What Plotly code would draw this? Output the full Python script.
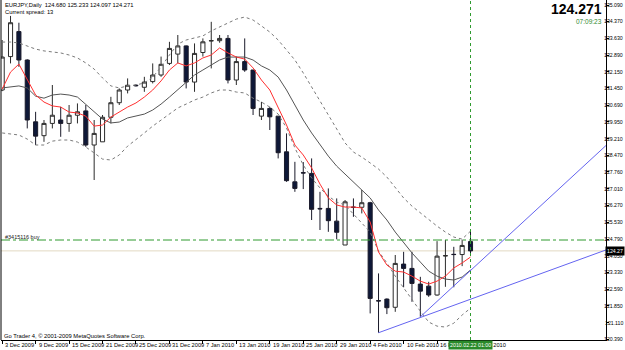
import plotly.graph_objects as go

# ---------------- data ----------------
symbol = "EURJPY,Daily"
last_ohlc = "124.680 125.233 124.097 124.271"
spread = 13
bid = 124.271
buy_price = 124.75
buy_label = "#3415116 buy"
server_time = "07:09:23"
cursor_label = "2010.02.22 01:00"
copyright_txt = "Go Trader 4, © 2001-2009 MetaQuotes Software Corp."

bars = list(range(57))  # 3 Dec 2009 ... 22 Feb 2010 (trading days)

opens = [131.35, 132.82, 133.92, 132.67, 129.95, 129.34, 129.88, 130.03, 129.88, 130.24,
         130.43, 128.93, 129.07, 130.15, 130.79, 131.35, 131.56, 131.47, 131.72, 132.01,
         132.52, 132.93, 133.29, 131.70, 133.00, 133.51, 133.52, 133.62, 131.79, 132.60,
         132.23, 130.20, 130.54, 130.20, 128.63, 127.31, 127.71, 127.68, 126.14, 126.14,
         125.58, 124.53, 126.19, 126.19, 126.39, 122.08, 122.15, 121.79, 123.69, 123.50,
         122.81, 122.72, 122.33, 124.05, 124.12, 124.11, 124.680]
highs = [133.55, 134.61, 134.31, 132.70, 130.39, 130.03, 131.57, 130.61, 130.69, 130.76,
         130.69, 130.03, 130.25, 131.05, 131.42, 131.86, 131.60, 131.93, 132.52, 132.82,
         133.47, 133.77, 133.31, 133.40, 133.62, 134.35, 133.77, 133.77, 132.82, 133.62,
         132.23, 130.83, 130.61, 130.20, 129.44, 128.19, 128.18, 128.34, 126.87, 127.02,
         126.58, 126.51, 126.58, 126.95, 126.43, 123.28, 122.18, 124.09, 124.23, 124.23,
         123.13, 122.91, 124.70, 124.75, 124.45, 124.77, 125.233]
lows = [131.30, 132.52, 132.37, 129.66, 128.93, 129.07, 129.66, 129.29, 129.51, 129.88,
        128.85, 127.39, 129.07, 129.88, 130.69, 131.20, 131.50, 131.27, 131.64, 131.93,
        132.45, 132.52, 131.42, 131.27, 132.82, 132.30, 133.43, 131.64, 131.57, 132.15,
        130.25, 130.03, 129.59, 128.34, 127.31, 126.87, 126.99, 125.63, 125.19, 125.11,
        124.78, 124.53, 125.77, 125.92, 121.52, 120.67, 121.49, 121.59, 122.67, 122.03,
        121.37, 122.25, 122.30, 122.69, 122.67, 123.60, 124.097]
closes = [132.80, 134.31, 132.67, 130.03, 129.32, 129.88, 130.24, 129.88, 130.24, 130.39,
          128.93, 129.44, 130.15, 130.79, 131.35, 131.56, 131.54, 131.70, 132.01, 132.48,
          133.18, 133.29, 131.70, 132.96, 133.47, 133.52, 133.62, 131.79, 132.60, 132.23,
          130.54, 130.54, 130.17, 128.59, 127.36, 127.02, 127.70, 126.10, 126.12, 125.60,
          125.09, 126.43, 126.19, 126.39, 122.18, 122.07, 121.77, 123.72, 123.50, 122.84,
          122.50, 122.33, 124.04, 124.06, 124.11, 124.51, 124.271]

ma_fast = [131.39, 132.14, 132.49, 131.79, 131.13, 130.82, 130.65, 130.60, 130.38, 130.34,
           130.20, 129.76, 129.81, 130.16, 130.38, 130.60, 130.78, 131.04, 131.35, 131.75,
           132.23, 132.54, 132.41, 132.54, 132.76, 132.89, 133.20, 132.98, 132.80, 132.71,
           132.32, 131.79, 131.35, 130.60, 129.81, 128.93, 128.49, 127.92, 127.21, 126.60,
           126.29, 126.20, 126.20, 126.16, 125.54, 124.22, 123.65, 123.38, 123.34, 123.16,
           122.94, 122.81, 122.94, 123.16, 123.52, 123.74, 124.00]
ma_mid = [131.44, 131.48, 131.53, 131.44, 131.08, 130.99, 131.13, 131.17, 131.13, 131.04,
          130.73, 130.38, 130.07, 129.90, 129.94, 130.12, 130.20, 130.29, 130.47, 130.73,
          131.04, 131.35, 131.70, 132.01, 132.23, 132.45, 132.67, 132.80, 132.80, 132.80,
          132.67, 132.41, 132.23, 131.92, 131.35, 130.69, 130.03, 129.46, 128.93, 128.44,
          128.00, 127.65, 127.26, 126.95, 126.60, 126.07, 125.63, 125.10, 124.62, 124.18,
          123.78, 123.38, 123.16, 123.03, 122.99, 123.12, 123.43]
band_up = [133.46, 133.46, 133.42, 133.29, 133.15, 133.07, 133.02, 132.98, 132.89, 132.76,
           132.54, 132.27, 131.88, 131.53, 131.44, 131.53, 131.57, 131.66, 131.92, 132.36,
           132.89, 133.37, 133.55, 133.64, 133.73, 133.95, 134.12, 134.30, 134.47, 134.56,
           134.43, 134.17, 133.90, 133.55, 133.11, 132.67, 132.10, 131.48, 130.82, 130.20,
           129.59, 129.02, 128.62, 128.40, 128.14, 127.87, 127.52, 127.04, 126.60, 126.24,
           125.94, 125.67, 125.36, 125.10, 124.88, 124.79, 125.14]
band_dn = [129.46, 129.41, 129.37, 129.19, 128.93, 128.93, 129.10, 129.15, 129.15, 129.06,
           128.84, 128.58, 128.31, 128.27, 128.49, 128.88, 129.15, 129.46, 129.76, 130.03,
           130.29, 130.56, 130.73, 130.91, 131.04, 131.22, 131.35, 131.35, 131.26, 131.22,
           130.99, 130.82, 130.60, 130.29, 129.68, 128.80, 128.05, 127.48, 127.04, 126.68,
           126.42, 126.29, 125.89, 125.50, 125.10, 124.26, 123.74, 123.16, 122.63, 122.11,
           121.62, 121.14, 120.96, 120.92, 121.09, 121.45, 121.75]

trend1_x = [45, 73]
trend1_y = [120.67, 124.42]
trend2_x = [50, 73]
trend2_y = [121.37, 129.18]

date_ticks = [0, 4, 8, 12, 16, 20, 24, 28, 32, 36, 40, 44, 48, 52, 56]
date_labels = ["3 Dec 2009", "9 Dec 2009", "15 Dec 2009", "21 Dec 2009", "25 Dec 2009",
               "31 Dec 2009", "7 Jan 2010", "13 Jan 2010", "19 Jan 2010", "25 Jan 2010",
               "29 Jan 2010", "4 Feb 2010", "10 Feb 2010", "16 Feb 2010", "22 Feb 2010"]
price_ticks = [135.090, 134.370, 133.630, 132.890, 132.150, 131.450, 130.690, 129.950,
               129.210, 128.470, 127.760, 127.010, 126.270, 125.530, 124.790, 124.050,
               123.330, 122.590, 121.850, 121.110, 120.390]
price_labels = ["%.3f" % v for v in price_ticks]

# ---------------- figure ----------------
FONT = "Liberation Sans, Arial, sans-serif"
W, H = 625, 350
ML, MR, MT, MB = 1, 19, 0, 10
PW, PH = W - ML - MR, H - MT - MB


def px(xp):
    return (xp - ML) / PW


def py(yp):
    return 1 - (yp - MT) / PH


fig = go.Figure()

fig.add_trace(go.Candlestick(
    x=bars, open=opens, high=highs, low=lows, close=closes,
    increasing=dict(line=dict(color="#2b2b2b", width=1), fillcolor="#ffffff"),
    decreasing=dict(line=dict(color="#1a1a2a", width=1), fillcolor="#0e1838"),
    whiskerwidth=0, hoverinfo="skip"))

for ys, col, dash in [(band_up, "#7a7a7a", "dot"), (band_dn, "#7a7a7a", "dot"),
                      (ma_mid, "#555555", "solid"), (ma_fast, "#ff3030", "solid")]:
    fig.add_trace(go.Scatter(x=bars, y=ys, mode="lines",
                             line=dict(color=col, width=1, dash=dash), hoverinfo="skip"))

for tx, ty in [(trend1_x, trend1_y), (trend2_x, trend2_y)]:
    fig.add_trace(go.Scatter(x=tx, y=ty, mode="lines",
                             line=dict(color="#6464f0", width=1), hoverinfo="skip"))

# bid line, order line, cursor line
fig.add_shape(type="line", xref="paper", x0=0, x1=1, yref="y", y0=bid, y1=bid,
              line=dict(color="#e2d9c2", width=1), layer="below")
fig.add_shape(type="line", xref="paper", x0=0, x1=1, yref="y", y0=buy_price, y1=buy_price,
              line=dict(color="#2f9a2f", width=1, dash="dashdot"))
fig.add_shape(type="line", xref="x", x0=bars[-1], x1=bars[-1], yref="paper", y0=0, y1=1,
              line=dict(color="#2f9a2f", width=1, dash="dot"))
# left frame
fig.add_shape(type="line", xref="paper", x0=0, x1=0, yref="paper", y0=0, y1=1,
              line=dict(color="#000000", width=1))

small = dict(family=FONT, size=5.8, color="#000000")
fig.add_annotation(text=symbol + "  " + last_ohlc, xref="paper", yref="paper",
                   x=px(3), y=py(5), xanchor="left", yanchor="middle", showarrow=False, font=small)
fig.add_annotation(text="Current spread: %d" % spread, xref="paper", yref="paper",
                   x=px(3), y=py(12), xanchor="left", yanchor="middle", showarrow=False, font=small)
fig.add_annotation(text="<b>%.3f</b>" % bid, xref="paper", yref="paper",
                   x=px(604), y=py(9), xanchor="right", yanchor="middle", showarrow=False,
                   font=dict(family=FONT, size=14, color="#000000"))
fig.add_annotation(text=server_time, xref="paper", yref="paper",
                   x=px(604), y=py(22), xanchor="right", yanchor="middle", showarrow=False,
                   font=dict(family=FONT, size=6.5, color="#2f8a2f"))
fig.add_annotation(text=buy_label, xref="paper", yref="y",
                   x=px(3), y=buy_price, yshift=3, xanchor="left", yanchor="middle",
                   showarrow=False, font=dict(family=FONT, size=5.5, color="#222222"))
fig.add_annotation(text=copyright_txt, xref="paper", yref="paper",
                   x=px(2), y=py(336), xanchor="left", yanchor="middle", showarrow=False, font=small)

# price scale labels (right) and date labels (bottom), MT4 style
for v, lab in zip(price_ticks, price_labels):
    fig.add_annotation(text=lab, xref="paper", yref="y", x=px(625), y=v,
                       xanchor="right", yanchor="middle", showarrow=False,
                       font=dict(family=FONT, size=5.2, color="#000000"))
for t, lab in zip(date_ticks, date_labels):
    fig.add_annotation(text=lab, xref="x", yref="paper", x=t, xshift=1, y=py(345),
                       xanchor="left", yanchor="middle", showarrow=False,
                       font=dict(family=FONT, size=5.7, color="#000000"))

fig.add_annotation(text="%.2f" % bid, xref="paper", yref="y", x=px(625), y=bid,
                   xanchor="right", yanchor="middle", showarrow=False,
                   bgcolor="#000000", borderpad=1,
                   font=dict(family=FONT, size=5.2, color="#ffffff"))
fig.add_annotation(text=cursor_label, xref="x", yref="paper", x=bars[-1], y=py(345),
                   xanchor="center", yanchor="middle", showarrow=False,
                   bgcolor="#2a8a2a", borderpad=1,
                   font=dict(family=FONT, size=5.3, color="#ffffff"))

fig.update_layout(
    width=W, height=H, margin=dict(l=ML, r=MR, t=MT, b=MB, pad=0),
    paper_bgcolor="#ffffff", plot_bgcolor="#ffffff", showlegend=False,
    xaxis=dict(range=[-0.14, 72.2], tickvals=date_ticks, showticklabels=False,
               ticks="outside", ticklen=3, tickcolor="#000000", showgrid=False,
               zeroline=False, showline=True, linecolor="#000000", linewidth=1,
               automargin=False, rangeslider=dict(visible=False), fixedrange=True),
    yaxis=dict(range=[120.35, 135.31], side="right", tickvals=price_ticks, showticklabels=False,
               ticks="outside", ticklen=2, tickcolor="#000000", showgrid=False,
               zeroline=False, showline=True, linecolor="#000000", linewidth=1,
               automargin=False, fixedrange=True),
)

fig.write_html("out.html")
